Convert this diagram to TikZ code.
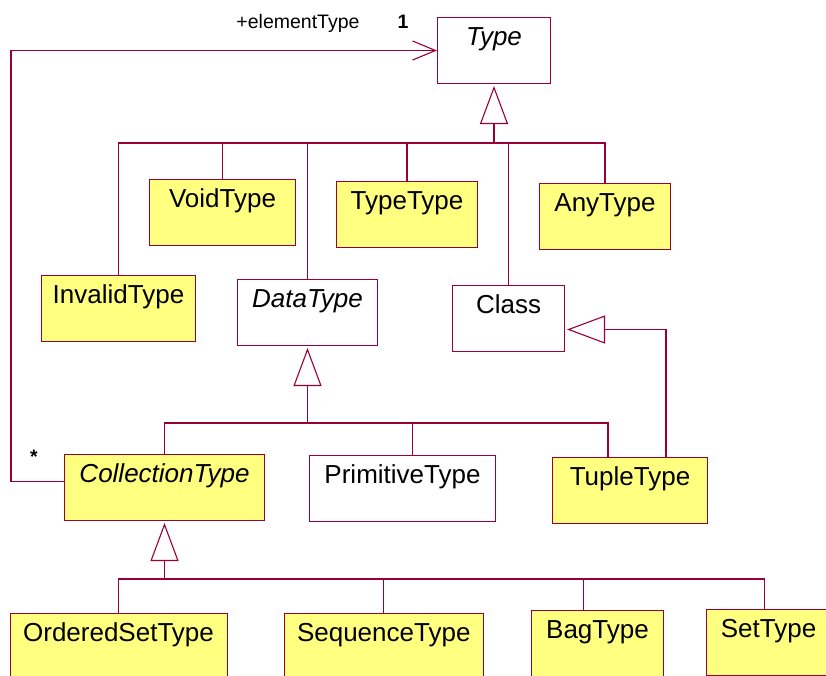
\documentclass[tikz,border=0pt]{standalone}
\usepackage{fontspec}
\setmainfont{Liberation Sans}
\usetikzlibrary{arrows.meta}
\definecolor{umlline}{RGB}{153,0,51}
\definecolor{umlfill}{RGB}{255,255,128}

\begin{document}
\begin{tikzpicture}[x=1pt, y=-1pt,
  every node/.style={font=\fontsize{26}{30}\selectfont},
  classbox/.style={draw=umlline, line width=1pt, anchor=north west, inner sep=0pt, text height=28pt, text depth=38pt},
  yelbox/.style={classbox, fill=umlfill},
  abstract/.style={font=\fontsize{26}{30}\selectfont\itshape},
  role/.style={font=\fontsize{19.5}{22}\selectfont, anchor=base, inner sep=0pt},
  mult/.style={role, font=\fontsize{19.5}{22}\selectfont\bfseries},
  link/.style={draw=umlline, line width=1.1pt},
  gen/.style={link, -{Triangle[open, length=38pt, width=28pt]}, shorten >=2pt},
  assoc/.style={link, -{Straight Barb[length=23pt, width=19pt]}}]
\useasboundingbox (0,0) rectangle (826,675);
\clip (0,0) rectangle (826,675);

% top
\node[classbox, abstract, minimum width=113pt] (type) at (437,17) {Type};

% first level
\node[yelbox, minimum width=146pt] (void) at (149,179) {VoidType};
\node[yelbox, minimum width=141pt] (typetype) at (336,181) {TypeType};
\node[yelbox, minimum width=131pt] (any) at (539,183) {AnyType};
\node[yelbox, minimum width=154pt] (invalid) at (41,275) {InvalidType};
\node[classbox, abstract, minimum width=140pt] (data) at (237,279) {DataType};
\node[classbox, minimum width=112pt] (class) at (452,285) {Class};

% data types
\node[yelbox, abstract, minimum width=200pt] (coll) at (64,454) {CollectionType};
\node[classbox, minimum width=186pt] (prim) at (309,455) {PrimitiveType};
\node[yelbox, minimum width=155pt] (tuple) at (552,457) {TupleType};

% collections
\node[yelbox, minimum width=217pt] (ordset) at (9.5,613) {OrderedSetType};
\node[yelbox, minimum width=199.5pt] (seq) at (283.5,613) {SequenceType};
\node[yelbox, minimum width=132pt] (bag) at (531,610) {BagType};
\node[yelbox, minimum width=124pt] (set) at (706,609) {SetType};

% association labels
\node[role] (rolename) at (298,28) {+elementType};
\node[mult] (multone) at (403,28) {1};
\node[mult] (multmany) at (34,463) {*};

% generalizations
\coordinate (typebar) at (type.south |- 0,143);
\draw[gen] (typebar) -- (type.south);
\foreach \n in {invalid, void, data, typetype, class, any}
  \draw[link] (\n.north) |- (typebar);

\coordinate (databar) at (data.south |- 0,423);
\draw[gen] (databar) -- (data.south);
\draw[link] (coll.north) |- (databar);
\draw[link] ([xshift=10pt]prim.north) |- (databar);
\draw[link] ([xshift=-22pt]tuple.north) |- (databar);

\draw[gen] ([xshift=36pt]tuple.north) |- ([yshift=-11pt]class.east);

\coordinate (collbar) at (coll.south |- 0,579);
\draw[gen] (collbar) -- (coll.south);
\draw[link] (ordset.north) |- (collbar);
\draw[link] (seq.north) |- (collbar);
\draw[link] ([xshift=-14pt]bag.north) |- (collbar);
\draw[link] ([xshift=-4pt]set.north) |- (collbar);

% association
\draw[assoc] ([yshift=6pt]coll.west) -- ++(-53,0) |- (type.west);
\end{tikzpicture}
\end{document}
